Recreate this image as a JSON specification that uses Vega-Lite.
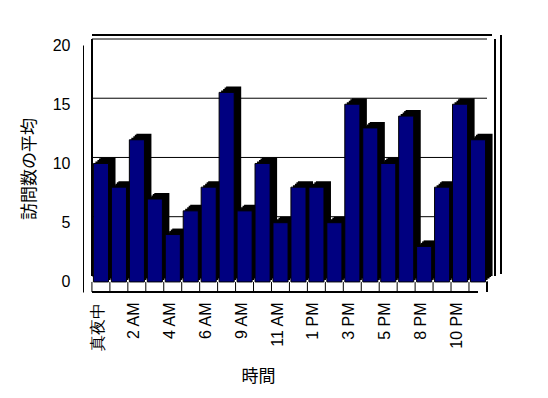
{
  "$schema": "https://vega.github.io/schema/vega-lite/v6.json",
  "width": 395,
  "height": 247,
  "autosize": {"type": "none"},
  "padding": {"left": 92, "top": 45, "right": 61, "bottom": 106},
  "background": "white",
  "config": {"view": {"stroke": null}, "font": "Noto Sans CJK JP"},
  "datasets": {
    "visits": [
      {"hour": "真夜中", "avg": 10},
      {"hour": "1 AM", "avg": 8},
      {"hour": "2 AM", "avg": 12},
      {"hour": "3 AM", "avg": 7},
      {"hour": "4 AM", "avg": 4},
      {"hour": "5 AM", "avg": 6},
      {"hour": "6 AM", "avg": 8},
      {"hour": "7 AM", "avg": 16},
      {"hour": "9 AM", "avg": 6},
      {"hour": "10 AM", "avg": 10},
      {"hour": "11 AM", "avg": 5},
      {"hour": "12 PM", "avg": 8},
      {"hour": "1 PM", "avg": 8},
      {"hour": "2 PM", "avg": 5},
      {"hour": "3 PM", "avg": 15},
      {"hour": "4 PM", "avg": 13},
      {"hour": "5 PM", "avg": 10},
      {"hour": "6 PM", "avg": 14},
      {"hour": "8 PM", "avg": 3},
      {"hour": "9 PM", "avg": 8},
      {"hour": "10 PM", "avg": 15},
      {"hour": "11 PM", "avg": 12}
    ],
    "grid": [{"g": 0}, {"g": 5}, {"g": 10}, {"g": 15}, {"g": 20}]
  },
  "layer": [
    {
      "data": {"name": "grid"},
      "mark": {"type": "rule", "color": "black", "strokeWidth": 1, "yOffset": -6, "x2Offset": 8},
      "encoding": {
        "y": {
          "field": "g",
          "type": "quantitative",
          "scale": {"domain": [-0.85, 20], "nice": false, "zero": false},
          "axis": {
            "title": "訪問数の平均",
            "values": [0, 5, 10, 15, 20],
            "offset": 9,
            "ticks": false,
            "grid": false,
            "domainColor": "black",
            "labelFont": "Liberation Sans",
            "labelFontSize": 16,
            "labelColor": "black",
            "labelPadding": 13,
            "titleFontSize": 17,
            "titleFontWeight": "normal",
            "titleColor": "black",
            "titlePadding": 14
          }
        }
      }
    },
    {
      "data": {"name": "visits"},
      "mark": {"type": "rule", "color": "black", "yOffset": -10, "xOffset": 5, "x2Offset": 14},
      "encoding": {"y": {"datum": 20, "type": "quantitative"}}
    },
    {
      "data": {"name": "visits"},
      "mark": {"type": "rule", "color": "black", "xOffset": -1.5, "yOffset": -6, "y2Offset": -6},
      "encoding": {
        "x": {"datum": "真夜中", "type": "nominal", "bandPosition": 0},
        "y": {"datum": 0, "type": "quantitative"},
        "y2": {"datum": 20}
      }
    },
    {
      "data": {"name": "visits"},
      "mark": {"type": "rule", "color": "black", "xOffset": 9.6, "yOffset": -6, "y2Offset": -6},
      "encoding": {
        "x": {"datum": "11 PM", "type": "nominal", "bandPosition": 1},
        "y": {"datum": 0, "type": "quantitative"},
        "y2": {"datum": 20}
      }
    },
    {
      "data": {"name": "visits"},
      "mark": {"type": "rule", "color": "black", "xOffset": 15.6, "yOffset": -8, "y2Offset": -10},
      "encoding": {
        "x": {"datum": "11 PM", "type": "nominal", "bandPosition": 1},
        "y": {"datum": 0, "type": "quantitative"},
        "y2": {"datum": 20}
      }
    },
    {
      "data": {"name": "visits"},
      "mark": {"type": "rule", "color": "black", "xOffset": -9},
      "encoding": {"y": {"datum": -0.85, "type": "quantitative"}}
    },
    {
      "data": {"name": "visits"},
      "mark": {"type": "rule", "color": "black", "xOffset": -1.5},
      "encoding": {
        "x": {"field": "hour", "type": "nominal", "bandPosition": 0, "sort": null},
        "y": {"datum": -0.85, "type": "quantitative"},
        "y2": {"datum": 0}
      }
    },
    {
      "data": {"name": "visits"},
      "mark": {"type": "rule", "color": "black", "xOffset": 1.6},
      "encoding": {
        "x": {"datum": "11 PM", "type": "nominal", "bandPosition": 1},
        "y": {"datum": -0.85, "type": "quantitative"},
        "y2": {"datum": 0}
      }
    },
    {
      "data": {"name": "visits"},
      "mark": {"type": "bar", "color": "black", "xOffset": 2, "yOffset": -2, "y2Offset": -1},
      "encoding": {
        "x": {"field": "hour", "type": "nominal", "sort": null},
        "y": {"field": "avg", "type": "quantitative"}
      }
    },
    {
      "data": {"name": "visits"},
      "mark": {"type": "bar", "color": "black", "xOffset": 4, "yOffset": -3.5, "y2Offset": -1},
      "encoding": {
        "x": {"field": "hour", "type": "nominal", "sort": null},
        "y": {"field": "avg", "type": "quantitative"}
      }
    },
    {
      "data": {"name": "visits"},
      "mark": {"type": "bar", "color": "black", "xOffset": 5.5, "yOffset": -5, "y2Offset": -1},
      "encoding": {
        "x": {"field": "hour", "type": "nominal", "sort": null},
        "y": {"field": "avg", "type": "quantitative"}
      }
    },
    {
      "data": {"name": "visits"},
      "mark": {"type": "bar", "color": "black", "xOffset": 7, "yOffset": -6, "y2Offset": -1},
      "encoding": {
        "x": {"field": "hour", "type": "nominal", "sort": null},
        "y": {"field": "avg", "type": "quantitative"}
      }
    },
    {
      "data": {"name": "visits"},
      "mark": {"type": "bar", "color": "#000080", "stroke": "black", "strokeWidth": 1},
      "encoding": {
        "x": {
          "field": "hour",
          "type": "nominal",
          "sort": null,
          "scale": {
            "domain": ["真夜中", "1 AM", "2 AM", "3 AM", "4 AM", "5 AM", "6 AM", "7 AM", "9 AM", "10 AM", "11 AM", "12 PM", "1 PM", "2 PM", "3 PM", "4 PM", "5 PM", "6 PM", "8 PM", "9 PM", "10 PM", "11 PM"],
            "paddingInner": 0.16,
            "paddingOuter": 0.08
          },
          "axis": {
            "title": "時間",
            "values": ["真夜中", "2 AM", "4 AM", "6 AM", "9 AM", "11 AM", "1 PM", "3 PM", "5 PM", "8 PM", "10 PM"],
            "labelAngle": -90,
            "domain": false,
            "ticks": false,
            "labelFont": "Liberation Sans",
            "labelFontSize": 16,
            "labelColor": "black",
            "labelPadding": 10,
            "labelOffset": -3,
            "labelLimit": 0,
            "labelOverlap": false,
            "titleFontSize": 17,
            "titleFontWeight": "normal",
            "titleColor": "black",
            "titlePadding": 18,
            "titleX": 166
          }
        },
        "y": {
          "field": "avg",
          "type": "quantitative",
          "axis": {
            "title": "訪問数の平均",
            "values": [0, 5, 10, 15, 20],
            "offset": 9,
            "ticks": false,
            "grid": false,
            "domainColor": "black",
            "labelFont": "Liberation Sans",
            "labelFontSize": 16,
            "labelColor": "black",
            "labelPadding": 13,
            "titleFontSize": 17,
            "titleFontWeight": "normal",
            "titleColor": "black",
            "titlePadding": 14
          }
        }
      }
    }
  ]
}
